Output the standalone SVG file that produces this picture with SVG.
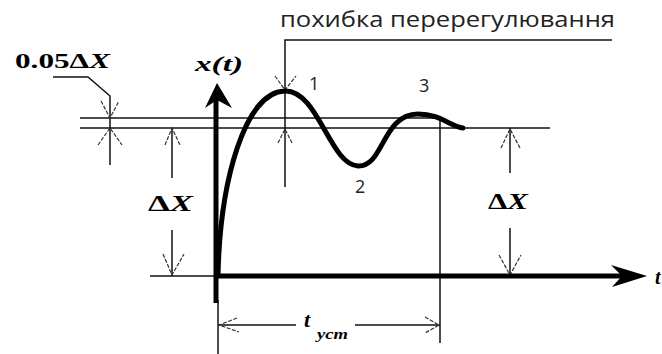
<svg xmlns="http://www.w3.org/2000/svg" width="662" height="354" viewBox="0 0 662 354">
<style>
.thin{stroke:#111;stroke-width:1.5;fill:none}
.ah{stroke:#333;stroke-width:1.2;fill:none;stroke-dasharray:4 1.5}
.thick{stroke:#000;stroke-width:5;fill:none}
.curve{stroke:#000;stroke-width:5;fill:none;stroke-linecap:round}
.math{font-family:"Liberation Serif",serif;font-weight:bold;fill:#000}
.lbl{font-family:"Open Sans","Liberation Sans",sans-serif;fill:#222}
</style>
<rect width="662" height="354" fill="#fff"/>
<g id="connectors">
  <!-- reference lines -->
  <line class="thin" x1="80" y1="118" x2="440" y2="118"/>
  <line class="thin" x1="80" y1="128" x2="550" y2="128"/>
  <line class="thin" x1="150" y1="276" x2="216" y2="276"/>
  <!-- 0.05 dX dimension -->
  <polyline class="thin" points="53,77 88,77 110,96 110,165"/>
  <polyline class="ah" points="101,101 110,118 119,101"/>
  <polyline class="ah" points="98,145 110,128 122,145"/>
  <!-- left dX -->
  <line class="thin" x1="172" y1="128" x2="172" y2="178"/>
  <line class="thin" x1="172" y1="230" x2="172" y2="276"/>
  <polyline class="ah" points="165,145 172,128 180,145"/>
  <polyline class="ah" points="163,254 172,275 184,254"/>
  <!-- right dX -->
  <line class="thin" x1="510" y1="128" x2="510" y2="173"/>
  <line class="thin" x1="510" y1="228" x2="510" y2="276"/>
  <polyline class="ah" points="501,148 510,129 520,148"/>
  <polyline class="ah" points="499,255 510,275 521,255"/>
  <!-- overshoot -->
  <polyline class="thin" points="612,40 285,40 285,187"/>
  <polyline class="ah" points="275,76 285,90 296,76"/>
  <polyline class="ah" points="278,143 285,129 292,143"/>
  <!-- settling time -->
  <line class="thin" x1="440" y1="118" x2="440" y2="343"/>
  <line class="thin" x1="218" y1="300" x2="218" y2="354"/>
  <line class="thin" x1="218" y1="325" x2="296" y2="325"/>
  <line class="thin" x1="355" y1="325" x2="440" y2="325"/>
  <polyline class="ah" points="237,318 219,325 239,332"/>
  <polyline class="ah" points="425,317 439,325 425,333"/>
</g>
<g id="axes">
  <line class="thick" x1="216" y1="303" x2="216" y2="96"/>
  <polygon points="217,83 232,108 217,100 205,108" fill="#000"/>
  <line class="thick" x1="214" y1="276" x2="626" y2="276"/>
  <polygon points="611,265 647,276 612,287 622,276" fill="#000"/>
  <text class="math" x="655" y="284" font-size="20" font-style="italic">t</text>
  <text class="math" x="195" y="71" font-size="22" font-style="italic" textLength="48" lengthAdjust="spacingAndGlyphs">x(t)</text>
</g>
<g id="curve">
  <path class="curve" d="M218,276 C220,180 245,92 285,91 C318,90 330,165 358,166 C384,167 382,114 418,114 C440,114 450,126 463,128"/>
</g>
<g id="labels">
  <text class="math" x="15" y="68" font-size="22" textLength="95" lengthAdjust="spacingAndGlyphs">0.05Δ<tspan font-style="italic">X</tspan></text>
  <text class="math" x="148" y="211" font-size="24" textLength="45" lengthAdjust="spacingAndGlyphs">Δ<tspan font-style="italic">X</tspan></text>
  <text class="math" x="488" y="209" font-size="24" textLength="40" lengthAdjust="spacingAndGlyphs">Δ<tspan font-style="italic">X</tspan></text>
  <text class="math" x="304" y="327" font-size="22" font-style="italic">t<tspan x="317" y="339" font-size="14" textLength="31" lengthAdjust="spacingAndGlyphs">уст</tspan></text>
  <text class="lbl" x="280" y="27" font-size="22" textLength="335" lengthAdjust="spacingAndGlyphs">похибка перерегулювання</text>
  <text class="lbl" x="309" y="90" font-size="18">1</text>
  <text class="lbl" x="355" y="193" font-size="18">2</text>
  <text class="lbl" x="419" y="92" font-size="18">3</text>
</g>
</svg>
